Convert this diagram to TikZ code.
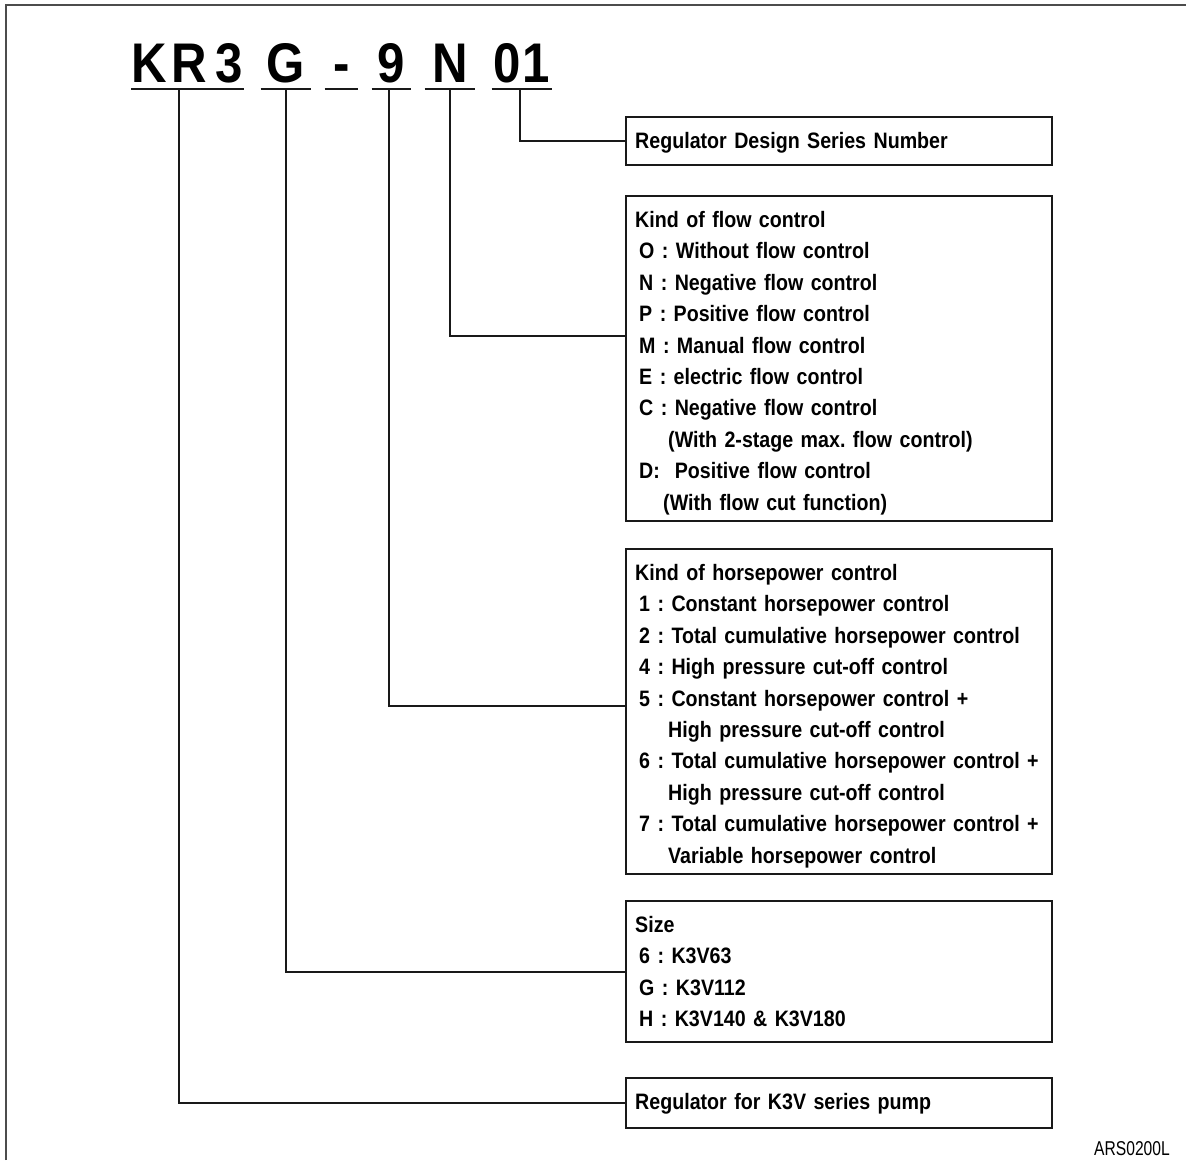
\documentclass[tikz,border=0pt]{standalone}
\usepackage{fontspec}
\setmainfont{Liberation Sans}[FakeStretch=0.88, WordSpace=0.8]
\newfontfamily\tagfont{Liberation Sans}[FakeStretch=0.78]
\newcommand\optfont{\frenchspacing\bfseries\fontsize{12.7pt}{17.9pt}\selectfont}
\newcommand\codefont{\bfseries\fontsize{31.8pt}{36pt}\selectfont}
\newcommand\ind{\hspace*{0.08cm}}
\newcommand\cont{\hspace*{0.66cm}}

\begin{document}
\begin{tikzpicture}[x=0.02cm, y=-0.02cm,
  every node/.style={font=\optfont},
  code/.style={font=\codefont, inner xsep=0pt, inner ysep=0.12cm, text depth=0pt, anchor=south},
  optbox/.style={draw=black!90, line width=1.4pt, anchor=north west, inner xsep=0.18cm,
    inner ysep=0pt, text width=8.16cm, align=left, text height=0.62cm},
  conn/.style={line width=1.4pt, black!90},
  frame/.style={line width=1.1pt, black!70}]
  \useasboundingbox (0,0) rectangle (1186,1160);
  \draw[frame] (6,1160) -- (6,5) -- (1186,5);

  % model code
  \node[code, minimum width=2.18cm] (kr3) at (187.5,89) {K\kern0.08cm{}R\kern0.18cm{}3};
  \node[code, minimum width=1.0cm] (sz) at (286,89) {G};
  \node[code, minimum width=0.66cm] (dash) at (341.5,89) {-};
  \node[code, minimum width=0.78cm] (hp) at (391.5,89) {9};
  \node[code, minimum width=1.0cm] (fc) at (450,89) {N};
  \node[code, minimum width=1.2cm] (ser) at (522,89) {0\kern0.04cm{}1};
  \foreach \c in {kr3,sz,dash,hp,fc,ser}
    \draw[conn] (\c.south west) -- (\c.south east);

  % option boxes
  \node[optbox, text depth=0.34cm] (series) at (625,116) {Regulator Design Series Number};
  \node[optbox, text depth=5.88cm] (flow) at (625,195) {Kind of flow control\\
    \ind O : Without flow control\\
    \ind N : Negative flow control\\
    \ind P : Positive flow control\\
    \ind M : Manual flow control\\
    \ind E : electric flow control\\
    \ind C : Negative flow control\\
    \cont (With 2-stage max. flow control)\\
    \ind D:\ \ Positive flow control\\
    \hspace*{0.56cm}(With flow cut function)};
  \node[optbox, text depth=5.88cm] (power) at (625,548) {Kind of horsepower control\\
    \ind 1 : Constant horsepower control\\
    \ind 2 : Total cumulative horsepower control\\
    \ind 4 : High pressure cut-off control\\
    \ind 5 : Constant horsepower control +\\
    \cont High pressure cut-off control\\
    \ind 6 : Total cumulative horsepower control +\\
    \cont High pressure cut-off control\\
    \ind 7 : Total cumulative horsepower control +\\
    \cont Variable horsepower control};
  \node[optbox, text depth=2.2cm] (size) at (625,900) {Size\\
    \ind 6 : K3V63\\
    \ind G : K3V112\\
    \ind H : K3V140 \& K3V180};
  \node[optbox, text depth=0.38cm] (pump) at (625,1077) {Regulator for K3V series pump};

  % connectors
  \draw[conn] ([xshift=-0.17cm]kr3.south) |- (pump.west);
  \draw[conn] (sz.south) |- (size.west);
  \draw[conn] ([xshift=-0.05cm]hp.south) |- ([yshift=0.11cm]power.west);
  \draw[conn] (fc.south) |- ([yshift=0.45cm]flow.west);
  \draw[conn] ([xshift=-0.04cm]ser.south) |- (series.west);

  \node[font=\tagfont\fontsize{11.4pt}{12pt}\selectfont, anchor=base east] (tag) at (1176,1155) {ARS0200L};
\end{tikzpicture}
\end{document}
